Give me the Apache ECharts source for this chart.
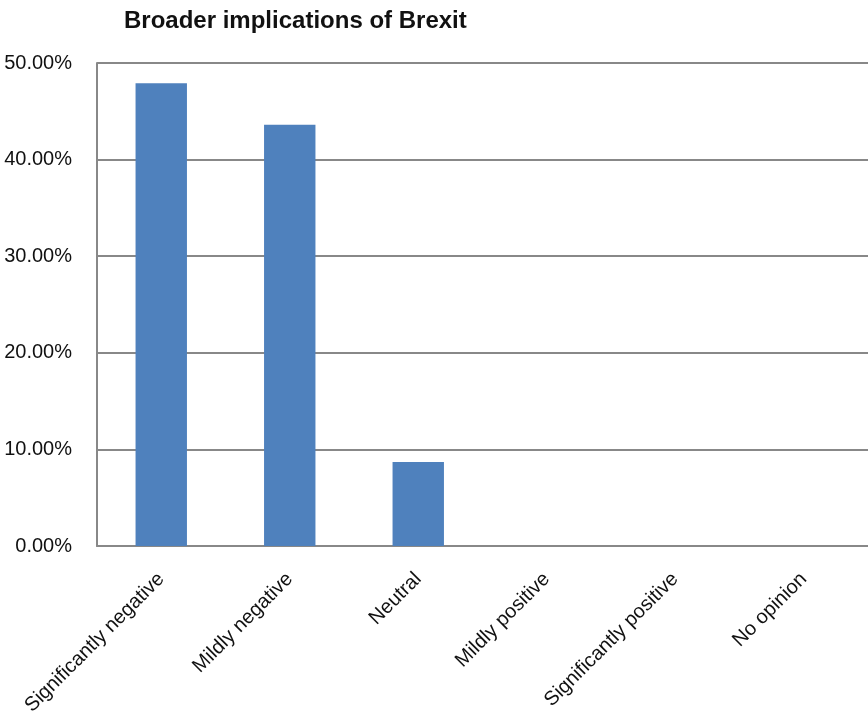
<!DOCTYPE html>
<html>
<head>
<meta charset="utf-8">
<script src="https://cdn.jsdelivr.net/npm/echarts@6/dist/echarts.min.js"></script>
<style>html,body{margin:0;padding:0;background:#fff;}#c{width:868px;height:722px;}</style>
</head>
<body>
<div id="c"></div>
<script>
var categories = ["Significantly negative", "Mildly negative", "Neutral", "Mildly positive", "Significantly positive", "No opinion"];
var values = [47.9, 43.6, 8.7, 0, 0, 0];
var yTicks = [0, 10, 20, 30, 40, 50];

var chart = echarts.init(document.getElementById('c'), null, {renderer: 'canvas'});
chart.setOption({
  animation: false,
  backgroundColor: '#ffffff',
  title: {
    text: 'Broader implications of Brexit',
    left: 119, top: 4,
    textStyle: {fontFamily: 'Liberation Sans', fontWeight: 'bold', fontSize: 24, color: '#111'}
  },
  grid: {left: 97, top: 63, width: 774, bottom: 176, containLabel: false},
  xAxis: {
    type: 'category',
    data: categories,
    axisLine: {show: true, lineStyle: {color: '#888', width: 2}},
    axisTick: {show: false},
    axisLabel: {rotate: 45, margin: 30, interval: 0, color: '#111', fontFamily: 'Liberation Sans', fontSize: 20}
  },
  yAxis: {
    type: 'value',
    min: yTicks[0], max: yTicks[yTicks.length - 1], interval: 10,
    axisLine: {show: true, lineStyle: {color: '#888', width: 2}},
    axisTick: {show: false},
    splitLine: {show: true, lineStyle: {color: '#888', width: 2}},
    axisLabel: {margin: 25, color: '#111', fontFamily: 'Liberation Sans', fontSize: 20,
      formatter: function (v) { return v.toFixed(2) + '%'; }}
  },
  series: [{
    type: 'bar',
    data: values,
    barCategoryGap: '60%',
    itemStyle: {color: '#4f81bd'}
  }]
});
</script>
</body>
</html>
